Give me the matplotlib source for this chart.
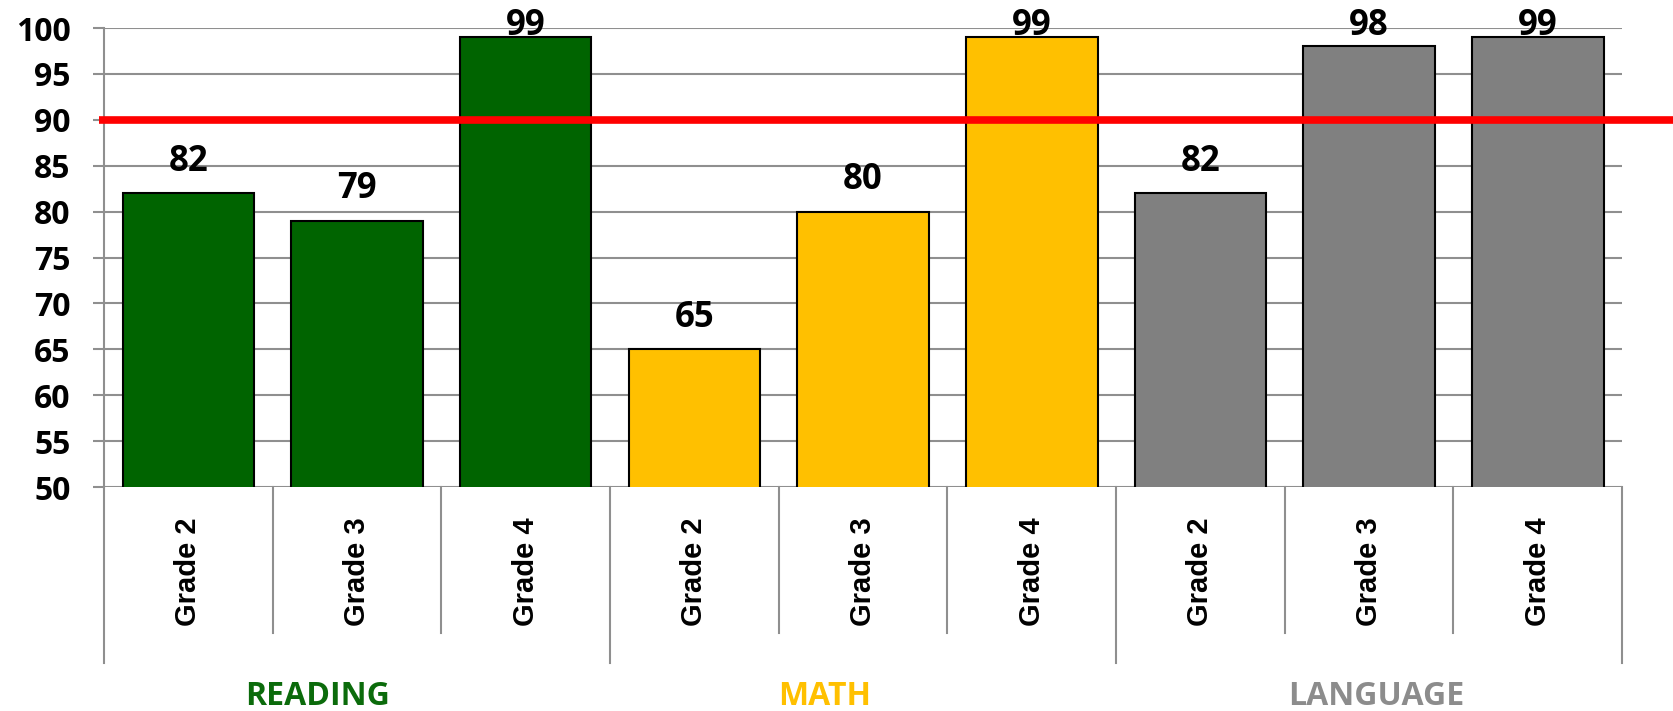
import matplotlib.pyplot as plt
import matplotlib.transforms as mtransforms

# Data
subjects = ['READING', 'MATH', 'LANGUAGE']
grades = ['Grade 2', 'Grade 3', 'Grade 4']
reading = [82, 79, 99]
math_scores = [65, 80, 99]
language = [82, 98, 99]
target = 90

subject_colors = ['#006400', '#FFC000', '#808080']
label_colors = ['#0B6B0B', '#FFC000', '#8C8C8C']

values = reading + math_scores + language
bar_colors = [c for c in subject_colors for _ in grades]
cat_labels = grades * len(subjects)
x = list(range(len(values)))

fig = plt.figure(figsize=(16.74, 7.11), dpi=100)
ax = fig.add_axes([0.0621, 0.315, 0.9069, 0.6455])

ax.bar(x, values, width=0.78, color=bar_colors, edgecolor='black', linewidth=1.5,
       zorder=3)
ax.set_ylim(50, 100)
ax.set_xlim(-0.5, len(values) - 0.5)
ax.set_yticks(range(50, 101, 5))
ax.set_xticks([])
ax.grid(axis='y', color='#8f8f8f', linewidth=1.5, zorder=0)
for s in ['top', 'right', 'bottom']:
    ax.spines[s].set_visible(False)
ax.spines['left'].set_color('#8f8f8f')
ax.spines['left'].set_linewidth(1.5)
ax.tick_params(axis='y', length=8, width=1.5, color='#8f8f8f', pad=16)
for lbl in ax.get_yticklabels():
    lbl.set_fontfamily('Open Sans')
    lbl.set_fontweight('bold')
    lbl.set_fontsize(23)

# target line, runs a bit past the plot area
ax.plot([-0.53, len(values) + 0.28], [target, target], color='#FF0000', linewidth=5.5,
        zorder=4, clip_on=False, solid_capstyle='butt')

# value labels
for xi, v in zip(x, values):
    ax.text(xi, min(v + 1.5, 98.3), str(v), ha='center', va='bottom',
            fontsize=25, fontweight='bold', family='Open Sans', zorder=5)

# category axis below the plot
trans = mtransforms.blended_transform_factory(ax.transData, ax.transAxes)
for i in range(len(values) + 1):
    edge = i - 0.5
    low = -0.383 if i % 3 == 0 else -0.318
    ax.plot([edge, edge], [0, low], color='#8f8f8f', linewidth=1.5,
            transform=trans, clip_on=False)
for xi, lab in zip(x, cat_labels):
    ax.text(xi, -0.185, lab, rotation=90, ha='center', va='center', transform=trans,
            fontsize=21, fontweight='bold', family='Liberation Sans')

group_x = [0.141, 0.475, 0.838]
for gx, name, col in zip(group_x, subjects, label_colors):
    ax.text(gx, -0.457, name, ha='center', va='center', transform=ax.transAxes,
            fontsize=23, fontweight='bold', family='Open Sans', color=col)

fig.savefig('out.png', dpi=100)
